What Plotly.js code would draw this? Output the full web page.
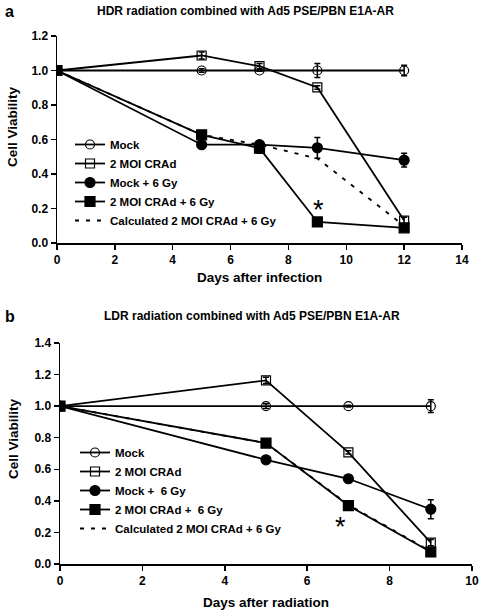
<!DOCTYPE html>
<html><head><meta charset="utf-8">
<script src="https://cdn.plot.ly/plotly-3.0.1.min.js"></script>
<style>body{margin:0;padding:0;background:#fff}#chart{width:485px;height:616px}</style>
</head><body><div id="chart"></div>
<script>
// Panel a (HDR)
const daysA = [0, 5, 7, 9, 12];
const mockA = [1.0, 1.0, 1.0, 1.0, 1.0];
const mockErrA = [0, 0.01, 0.005, 0.04, 0.03];
const cradA = [1.0, 1.087, 1.025, 0.902, 0.13];
const cradErrA = [0, 0.02, 0.015, 0.01, 0.02];
const mock6A = [1.0, 0.57, 0.57, 0.552, 0.48];
const mock6ErrA = [0, 0.01, 0.02, 0.06, 0.04];
const crad6A = [1.0, 0.627, 0.55, 0.122, 0.088];
const crad6ErrA = [0, 0.01, 0.03, 0.01, 0.01];
const calcA = [1.0, 0.627, 0.57, 0.49, 0.10];
// Panel b (LDR)
const daysB = [0, 5, 7, 9];
const mockB = [1.0, 1.0, 1.0, 1.0];
const mockErrB = [0, 0.015, 0.005, 0.04];
const cradB = [1.0, 1.163, 0.707, 0.135];
const cradErrB = [0, 0.02, 0.01, 0.02];
const mock6B = [1.0, 0.66, 0.54, 0.347];
const mock6ErrB = [0, 0.01, 0.02, 0.06];
const crad6B = [1.0, 0.766, 0.37, 0.076];
const crad6ErrB = [0, 0.01, 0.03, 0.01];
const calcB = [1.0, 0.766, 0.375, 0.08];

const namesA = ['Mock', '2 MOI CRAd', 'Mock + 6 Gy', '2 MOI CRAd + 6 Gy', 'Calculated 2 MOI CRAd + 6 Gy'];
const namesB = ['Mock', '2 MOI CRAd', 'Mock +\u00a0 6 Gy', '2 MOI CRAd +\u00a0 6 Gy', 'Calculated 2 MOI CRAd + 6 Gy'];

const FONT = 'Liberation Sans, Arial, sans-serif';
const styles = [
  {symbol: 'circle-open', size: 9},
  {symbol: 'square-open', size: 9},
  {symbol: 'circle', size: 10},
  {symbol: 'square', size: 10}
];

function mk(x, y, err, name, st, xa, ya, leg) {
  return {
    x: x, y: y, name: name, type: 'scatter', mode: 'lines+markers',
    xaxis: xa, yaxis: ya, legend: leg,
    line: {color: '#000', width: 1.8},
    marker: {symbol: st.symbol, size: st.size, color: '#000', line: {color: '#000', width: 1.2}},
    error_y: {type: 'data', array: err, visible: true, color: '#000', thickness: 1.5, width: 3}
  };
}
function calc(x, y, name, xa, ya, leg) {
  return {x: x, y: y, name: name, type: 'scatter', mode: 'lines', xaxis: xa, yaxis: ya, legend: leg,
    line: {color: '#000', width: 1.8, dash: '4px,7px'}};
}

const data = [
  mk(daysA, mockA, mockErrA, namesA[0], styles[0], 'x', 'y', 'legend'),
  mk(daysA, cradA, cradErrA, namesA[1], styles[1], 'x', 'y', 'legend'),
  mk(daysA, mock6A, mock6ErrA, namesA[2], styles[2], 'x', 'y', 'legend'),
  mk(daysA, crad6A, crad6ErrA, namesA[3], styles[3], 'x', 'y', 'legend'),
  calc(daysA, calcA, namesA[4], 'x', 'y', 'legend'),
  mk(daysB, mockB, mockErrB, namesB[0], styles[0], 'x2', 'y2', 'legend2'),
  mk(daysB, cradB, cradErrB, namesB[1], styles[1], 'x2', 'y2', 'legend2'),
  mk(daysB, mock6B, mock6ErrB, namesB[2], styles[2], 'x2', 'y2', 'legend2'),
  mk(daysB, crad6B, crad6ErrB, namesB[3], styles[3], 'x2', 'y2', 'legend2'),
  calc(daysB, calcB, namesB[4], 'x2', 'y2', 'legend2')
];

const tickfont = {family: FONT, size: 12, color: '#000', weight: 700};
function xax(domain, range, anchor) {
  return {domain: domain, range: range, anchor: anchor, dtick: 2, tick0: 0, showgrid: false, zeroline: false,
    showline: true, linecolor: '#000', linewidth: 1.5, ticks: 'outside', ticklen: 5, tickwidth: 1.5,
    tickcolor: '#000', tickfont: tickfont, fixedrange: true};
}
function yax(domain, range, anchor) {
  return {domain: domain, range: range, anchor: anchor, dtick: 0.2, tick0: 0, tickformat: '.1f', showgrid: false,
    zeroline: false, showline: true, linecolor: '#000', linewidth: 1.5, ticks: 'outside', ticklen: 5,
    tickwidth: 1.5, tickcolor: '#000', tickfont: tickfont, fixedrange: true};
}
const legfont = {family: FONT, size: 11.5, color: '#000', weight: 700};
const titleFont = {family: FONT, size: 12, color: '#000', weight: 700};
const axTitleFont = {family: FONT, size: 13.5, color: '#000', weight: 700};
const letterFont = {family: FONT, size: 16, color: '#000', weight: 700};
const starFont = {family: FONT, size: 27, color: '#000'};

const layout = {
  width: 485, height: 616, margin: {l: 0, r: 0, t: 0, b: 0},
  paper_bgcolor: '#fff', plot_bgcolor: 'rgba(0,0,0,0)', showlegend: true,
  xaxis: xax([57/485, 462/485], [0, 14], 'y'),
  yaxis: yax([1 - 243/616, 1 - 36/616], [0, 1.2], 'x'),
  xaxis2: xax([60/485, 472/485], [0, 10], 'y2'),
  yaxis2: yax([1 - 564/616, 1 - 343/616], [0, 1.4], 'x2'),
  legend: {x: 70/485, y: 1 - 130/616, xanchor: 'left', yanchor: 'top', bgcolor: 'rgba(0,0,0,0)',
    font: legfont, tracegroupgap: 0, itemclick: false},
  legend2: {x: 75/485, y: 1 - 438/616, xanchor: 'left', yanchor: 'top', bgcolor: 'rgba(0,0,0,0)',
    font: legfont, tracegroupgap: 0, itemclick: false},
  annotations: [
    {text: 'a', xref: 'paper', yref: 'paper', x: 3/485, y: 1 - 11/616, xanchor: 'left', yanchor: 'middle', showarrow: false, font: letterFont},
    {text: 'HDR radiation combined with Ad5 PSE/PBN E1A-AR', xref: 'paper', yref: 'paper', x: 245/485, y: 1 - 11/616, xanchor: 'center', yanchor: 'middle', showarrow: false, font: titleFont},
    {text: 'Days after infection', xref: 'paper', yref: 'paper', x: 259/485, y: 1 - 277/616, xanchor: 'center', yanchor: 'middle', showarrow: false, font: axTitleFont},
    {text: 'Cell Viability', xref: 'paper', yref: 'paper', x: 12/485, y: 1 - 127/616, xanchor: 'center', yanchor: 'middle', textangle: -90, showarrow: false, font: axTitleFont},
    {text: '*', xref: 'x', yref: 'y', x: 9.05, y: 0.19, xanchor: 'center', yanchor: 'middle', showarrow: false, font: starFont},
    {text: 'b', xref: 'paper', yref: 'paper', x: 3/485, y: 1 - 316/616, xanchor: 'left', yanchor: 'middle', showarrow: false, font: letterFont},
    {text: 'LDR radiation combined with Ad5 PSE/PBN E1A-AR', xref: 'paper', yref: 'paper', x: 252/485, y: 1 - 316/616, xanchor: 'center', yanchor: 'middle', showarrow: false, font: titleFont},
    {text: 'Days after radiation', xref: 'paper', yref: 'paper', x: 266/485, y: 1 - 602/616, xanchor: 'center', yanchor: 'middle', showarrow: false, font: axTitleFont},
    {text: 'Cell Viability', xref: 'paper', yref: 'paper', x: 13/485, y: 1 - 439/616, xanchor: 'center', yanchor: 'middle', textangle: -90, showarrow: false, font: axTitleFont},
    {text: '*', xref: 'x2', yref: 'y2', x: 6.82, y: 0.235, xanchor: 'center', yanchor: 'middle', showarrow: false, font: starFont}
  ]
};
Plotly.newPlot('chart', data, layout, {displayModeBar: false, staticPlot: true});
</script></body></html>
